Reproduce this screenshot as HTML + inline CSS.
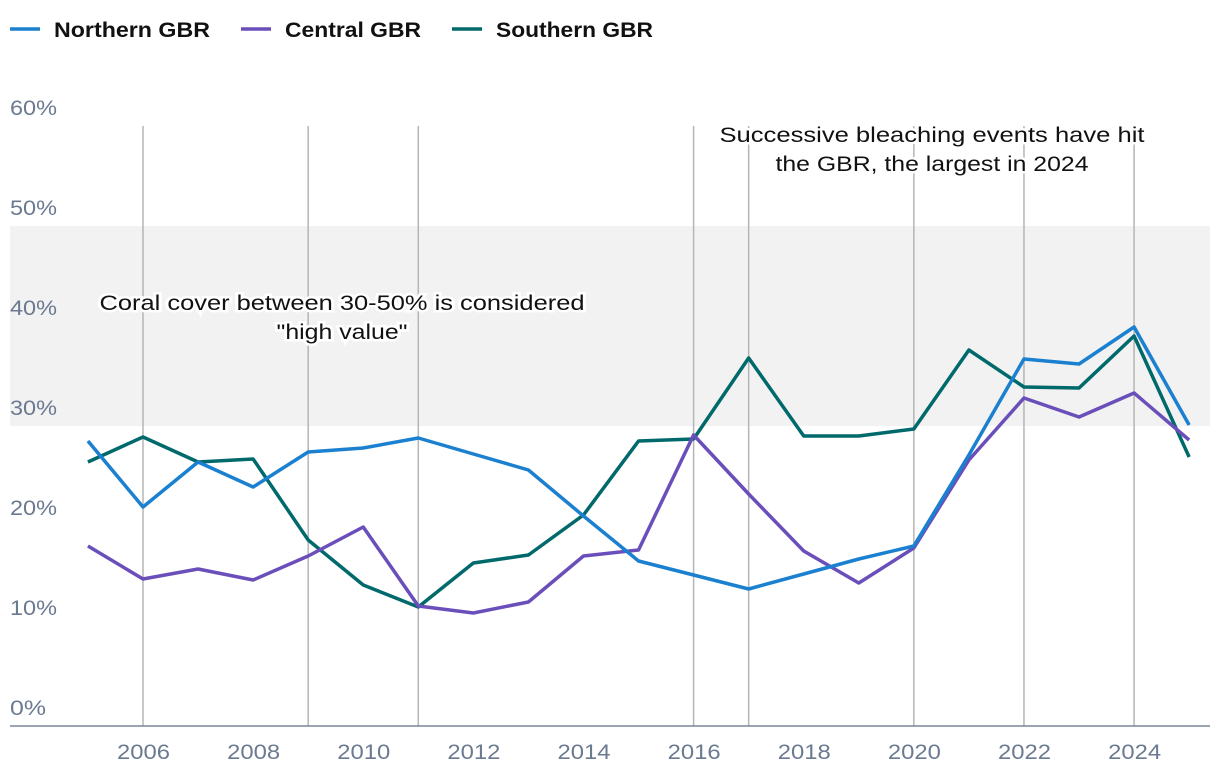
<!DOCTYPE html>
<html><head><meta charset="utf-8"><style>
body{margin:0;background:#fff;font-family:"Liberation Sans",sans-serif}
svg text{font-family:"Liberation Sans",sans-serif}
</style></head><body>
<svg id="chart" width="1220" height="772" xmlns="http://www.w3.org/2000/svg">
<g>
<g><line x1="10" y1="29" x2="40" y2="29" stroke="#1a80cf" stroke-width="3.5"/><text x="54" y="37" font-size="21" font-weight="bold" fill="#111" textLength="156" lengthAdjust="spacingAndGlyphs">Northern GBR</text></g>
<g><line x1="241" y1="29" x2="271" y2="29" stroke="#6a4fbb" stroke-width="3.5"/><text x="285" y="37" font-size="21" font-weight="bold" fill="#111" textLength="136" lengthAdjust="spacingAndGlyphs">Central GBR</text></g>
<g><line x1="452" y1="29" x2="482" y2="29" stroke="#00696b" stroke-width="3.5"/><text x="496" y="37" font-size="21" font-weight="bold" fill="#111" textLength="157" lengthAdjust="spacingAndGlyphs">Southern GBR</text></g>
</g>
<g id="band"></g><g id="vlines"></g><g id="yaxis"></g><g id="xaxis"></g><g id="notes"></g><g id="series"></g>
</svg>
<script>
const years=[2005,2006,2007,2008,2009,2010,2011,2012,2013,2014,2015,2016,2017,2018,2019,2020,2021,2022,2023,2024,2025];
const northern=[28.5,21.9,26.4,23.9,27.4,27.8,28.8,27.2,25.6,21.0,16.5,15.1,13.7,15.2,16.7,18.0,27.1,36.7,36.2,39.9,30.1];
const central=[18.0,14.7,15.7,14.6,17.0,19.9,12.0,11.3,12.4,17.0,17.6,29.1,23.2,17.5,14.3,17.8,26.6,32.8,30.9,33.3,28.6];
const southern=[26.4,28.9,26.4,26.7,18.6,14.1,11.9,16.3,17.1,21.1,28.5,28.7,36.8,29.0,29.0,29.7,37.6,33.9,33.8,39.0,26.9];
const bleachingYears=[2006,2009,2011,2016,2017,2020,2022,2024];
const yTicks=[0,10,20,30,40,50,60];
const xTicks=[2006,2008,2010,2012,2014,2016,2018,2020,2022,2024];
const band=[30,50];
const NS="http://www.w3.org/2000/svg";
const X=y=>143+(y-2006)*55.06;
const Y=v=>726-v*10;
function mk(tag,attrs,parent,txt){const e=document.createElementNS(NS,tag);for(const k in attrs)e.setAttribute(k,attrs[k]);if(txt!=null)e.textContent=txt;parent.appendChild(e);return e;}
const gB=document.getElementById('band');
let r=mk('rect',{x:10,y:Y(band[1]),width:1200,height:Y(band[0])-Y(band[1]),fill:'#f2f2f2'},gB);


const gV=document.getElementById('vlines');
bleachingYears.forEach(b=>{const l=mk('line',{x1:X(b),x2:X(b),y1:Y(60),y2:Y(0),stroke:'#b5b5b5','stroke-width':1.5},gV);

});
const gY=document.getElementById('yaxis');
yTicks.forEach(t=>{const e=mk('text',{x:10,y:Y(t)-11,'font-size':21,fill:'#6b7a90',textLength:t===0?36:47,lengthAdjust:'spacingAndGlyphs'},gY,t+'%');

});
const gX=document.getElementById('xaxis');
const ax=mk('line',{x1:10,x2:1210,y1:726,y2:726,stroke:'#7a8799','stroke-width':1.5},gX);


xTicks.forEach(t=>{const e=mk('text',{x:X(t)-26,y:759,'font-size':21,fill:'#6b7a90',textLength:53,lengthAdjust:'spacingAndGlyphs'},gX,t);

});
const gN=document.getElementById('notes');
function note(lines,lens,cx,y0,name){const g=mk('g',{},gN);


lines.forEach((s,i)=>mk('text',{x:cx-lens[i]/2,y:y0+i*29,'font-size':21,fill:'#111',stroke:'#fff','stroke-width':5,'paint-order':'stroke',textLength:lens[i],lengthAdjust:'spacingAndGlyphs'},g,s));}
note(['Coral cover between 30-50% is considered','"high value"'],[485,131],342,310,'high-value-annotation');
note(['Successive bleaching events have hit','the GBR, the largest in 2024'],[425,313],932,142,'bleaching-annotation');
const gS=document.getElementById('series');
[[southern,'#00696b','southern-line'],[central,'#6a4fbb','central-line'],[northern,'#1a80cf','northern-line']].forEach(([d,c,n])=>{
const p=mk('polyline',{points:d.map((v,i)=>X(years[i])+','+Y(v)).join(' '),fill:'none',stroke:c,'stroke-width':3.5,'stroke-linejoin':'round'},gS);

});
</script>
</body></html>
